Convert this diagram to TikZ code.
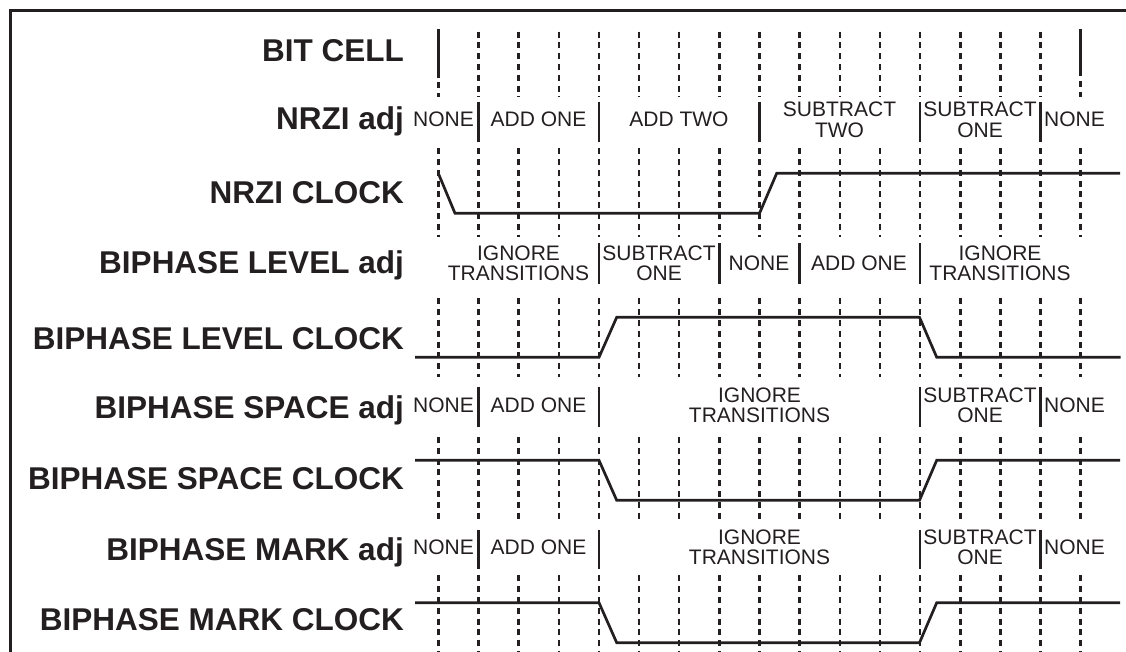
\documentclass[tikz,border=0pt]{standalone}
\usepackage{fontspec}
\setmainfont{Liberation Sans}
\definecolor{ink}{RGB}{35,31,32}
\begin{document}
\begin{tikzpicture}[x=1pt,y=-1pt,
  lbl/.style={anchor=base east, font=\fontsize{31.5}{36}\selectfont\bfseries, text=ink, inner sep=0pt},
  adjtxt/.style={font=\fontsize{21}{20.4}\selectfont, text=ink, inner sep=0pt, align=center},
  gridline/.style={draw=ink, line width=2.5pt, dash pattern=on 6pt off 4.8pt},
  sepline/.style={draw=ink, line width=2.7pt},
  wave/.style={draw=ink, line width=2.7pt, line join=miter},
  framel/.style={draw=ink, line width=3pt}]
\useasboundingbox (0,0) rectangle (1126,652);
% frame (left and top)
\draw[framel] (10,670) -- (10,11) -- (1140,11);
% labels
\node[lbl] (lbit)  at (404,61.7)  {BIT CELL};
\node[lbl] (lnadj) at (404,130)   {NRZI adj};
\node[lbl] (lnclk) at (404,204)   {NRZI CLOCK};
\node[lbl] (lladj) at (404,273.3) {BIPHASE LEVEL adj};
\node[lbl] (llclk) at (404,349.3) {BIPHASE LEVEL CLOCK};
\node[lbl] (lsadj) at (404,418.3) {BIPHASE SPACE adj};
\node[lbl] (lsclk) at (404,489.3) {BIPHASE SPACE CLOCK};
\node[lbl] (lmadj) at (404,560.3) {BIPHASE MARK adj};
\node[lbl] (lmclk) at (404,630.3) {BIPHASE MARK CLOCK};
% bit cell row
\foreach \i in {1,...,15} {
  \pgfmathsetmacro\gx{438.3+40.15*\i}
  \draw[gridline] (\gx,31.7) -- (\gx,96.7);
}
\draw[sepline] (438.3,29.3) -- (438.3,71.7);
\draw[gridline] (438.3,71.7) -- (438.3,96.7);
\draw[sepline] (1080.7,29.3) -- (1080.7,70);
\draw[gridline] (1080.7,70) -- (1080.7,96.7);
% gridlines in clock rows
\foreach \ya/\yb in {148.3/236.7, 298.3/376.7, 437/522, 575.3/652} {
  \foreach \i in {0,...,16} {
    \pgfmathsetmacro\gx{438.3+40.15*\i}
    \draw[gridline] (\gx,\ya) -- (\gx,\yb);
  }
}
% separators
\foreach \i in {1,4,8,12,15} {
  \pgfmathsetmacro\gx{438.3+40.15*\i}
  \draw[sepline] (\gx,101.7) -- (\gx,141.7);
}
\foreach \i in {4,7,9,12} {
  \pgfmathsetmacro\gx{438.3+40.15*\i}
  \draw[sepline] (\gx,243.3) -- (\gx,284);
}
\foreach \i in {1,4,12,15} {
  \pgfmathsetmacro\gx{438.3+40.15*\i}
  \draw[sepline] (\gx,386.7) -- (\gx,426.7);
  \draw[sepline] (\gx,530.3) -- (\gx,568.7);
}
% NRZI adj
\node[adjtxt, anchor=east] (na1) at (474,119.7) {NONE};
\node[adjtxt] (na2) at (538.5,119.7) {ADD ONE};
\node[adjtxt] (na3) at (679,119.7) {ADD TWO};
\node[adjtxt] (na4) at (839.5,119.7) {SUBTRACT\\TWO};
\node[adjtxt] (na5) at (980,119.7) {SUBTRACT\\ONE};
\node[adjtxt, anchor=west] (na6) at (1044,119.7) {NONE};
% BIPHASE LEVEL adj
\node[adjtxt] (la1) at (518.5,263) {IGNORE\\TRANSITIONS};
\node[adjtxt] (la2) at (659,263) {SUBTRACT\\ONE};
\node[adjtxt] (la3) at (759,263) {NONE};
\node[adjtxt] (la4) at (859,263) {ADD ONE};
\node[adjtxt] (la5) at (1000,263) {IGNORE\\TRANSITIONS};
% BIPHASE SPACE adj
\node[adjtxt, anchor=east] (sa1) at (474,405) {NONE};
\node[adjtxt] (sa2) at (538.5,405) {ADD ONE};
\node[adjtxt] (sa3) at (759.5,405) {IGNORE\\TRANSITIONS};
\node[adjtxt] (sa4) at (980,405) {SUBTRACT\\ONE};
\node[adjtxt, anchor=west] (sa5) at (1044,405) {NONE};
% BIPHASE MARK adj
\node[adjtxt, anchor=east] (ma1) at (474,547.3) {NONE};
\node[adjtxt] (ma2) at (538.5,547.3) {ADD ONE};
\node[adjtxt] (ma3) at (759.5,547.3) {IGNORE\\TRANSITIONS};
\node[adjtxt] (ma4) at (980,547.3) {SUBTRACT\\ONE};
\node[adjtxt, anchor=west] (ma5) at (1044,547.3) {NONE};
% waveforms
\draw[wave] (438.3,173.3) -- (455,213.3) -- (759.5,213.3) -- (776.7,173.3) -- (1120,173.3);
\draw[wave] (415,357.3) -- (599,357.3) -- (616.7,317.3) -- (919.5,317.3) -- (936.7,357.3) -- (1120.7,357.3);
\draw[wave] (415,460.3) -- (599,460.3) -- (616.7,500.3) -- (919.5,500.3) -- (936.7,460.3) -- (1120,460.3);
\draw[wave] (415,602.7) -- (599,602.7) -- (616.7,642.7) -- (919.5,642.7) -- (936.7,602.7) -- (1120,602.7);
\end{tikzpicture}
\end{document}
